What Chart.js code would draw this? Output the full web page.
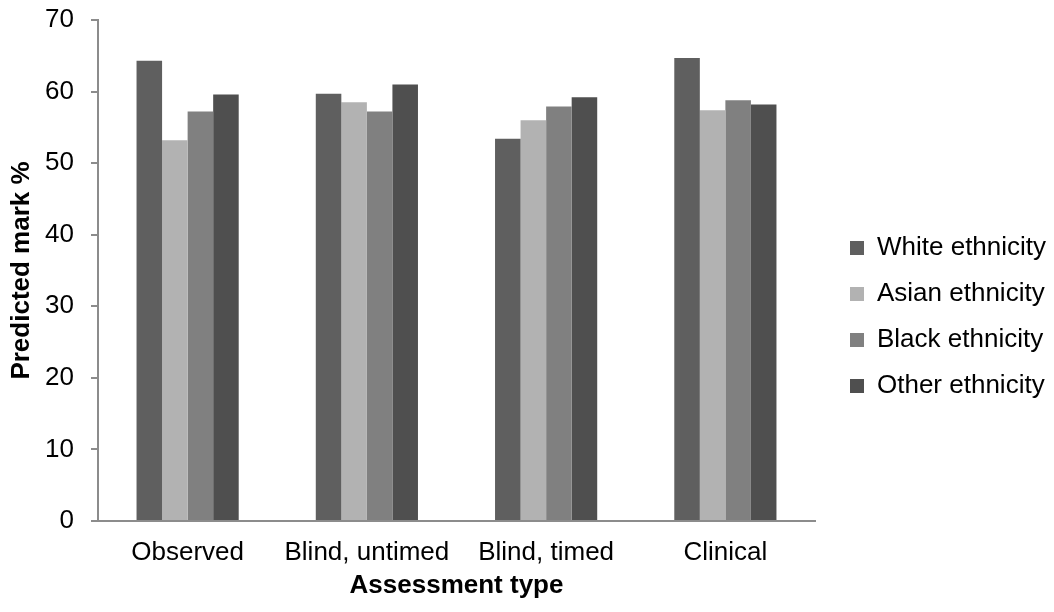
<!DOCTYPE html>
<html>
<head>
<meta charset="utf-8">
<script src="https://cdn.jsdelivr.net/npm/chart.js@4/dist/chart.umd.min.js"></script>
<style>
  html, body { margin: 0; padding: 0; background: #ffffff; }
  #wrap { width: 1054px; height: 612px; }
</style>
</head>
<body>
<div id="wrap"><canvas id="c" width="1054" height="612"></canvas></div>
<script>
const categories = ['Observed', 'Blind, untimed', 'Blind, timed', 'Clinical'];
const seriesNames = ['White ethnicity', 'Asian ethnicity', 'Black ethnicity', 'Other ethnicity'];
const whiteValues = [64.3, 59.7, 53.4, 64.7];
const asianValues = [53.2, 58.5, 56.0, 57.4];
const blackValues = [57.2, 57.2, 57.9, 58.8];
const otherValues = [59.6, 61.0, 59.2, 58.2];
const yTicks = [0, 10, 20, 30, 40, 50, 60, 70];
const seriesColors = ['#5f5f5f', '#b2b2b2', '#808080', '#4f4f4f'];

const FONT = "'Liberation Sans', Arial, sans-serif";
Chart.defaults.font.family = FONT;
Chart.defaults.color = '#000000';

const legendPlace = {
  id: 'legendPlace',
  beforeLayout(chart) {
    const lg = chart.legend;
    if (lg && !lg._patched) {
      const f = lg.fit.bind(lg);
      lg.fit = function () { f(); this.width = 239; };
      lg._patched = true;
    }
  },
  afterLayout(chart) {
    const lg = chart.legend;
    if (lg) { lg.left += 15; lg.top += 11; lg.bottom += 11; }
  }
};

const allValues = [whiteValues, asianValues, blackValues, otherValues];

new Chart(document.getElementById('c'), {
  type: 'bar',
  data: {
    labels: categories,
    datasets: seriesNames.map((n, i) => ({
      label: n,
      data: allValues[i],
      backgroundColor: seriesColors[i],
      borderWidth: 0,
      barPercentage: 1.0,
      categoryPercentage: 0.57
    }))
  },
  options: {
    responsive: false,
    animation: false,
    layout: { padding: 0 },
    plugins: {
      tooltip: { enabled: false },
      legend: {
        position: 'right',
        align: 'center',
        labels: {
          boxWidth: 14,
          boxHeight: 14,
          padding: 20,
          color: '#000000',
          font: { size: 26, family: FONT }
        }
      }
    },
    scales: {
      x: {
        grid: { display: false, drawTicks: false },
        border: { display: true, color: '#8c8c8c', width: 2 },
        ticks: { color: '#000000', font: { size: 26, family: FONT }, padding: 16, maxRotation: 0, autoSkip: false },
        title: { display: true, text: 'Assessment type', color: '#000000', font: { size: 26, weight: 'bold', family: FONT }, padding: { top: 0, bottom: 11 } },
        afterFit(scale) { scale.height = 91; }
      },
      y: {
        min: 0,
        max: 70,
        afterBuildTicks(scale) { scale.ticks = yTicks.map(v => ({ value: v })); },
        grid: { display: true, drawOnChartArea: false, drawTicks: true, tickLength: 7, color: '#8c8c8c', lineWidth: 2 },
        border: { display: true, color: '#8c8c8c', width: 2 },
        ticks: { color: '#000000', font: { size: 26, family: FONT }, padding: 17 },
        title: { display: true, text: 'Predicted mark %', color: '#000000', font: { size: 26, weight: 'bold', family: FONT }, padding: { top: 6, bottom: 0 } },
        afterFit(scale) { scale.width = 98; scale.paddingTop = 20; }
      }
    }
  },
  plugins: [legendPlace]
});
</script>
</body>
</html>
